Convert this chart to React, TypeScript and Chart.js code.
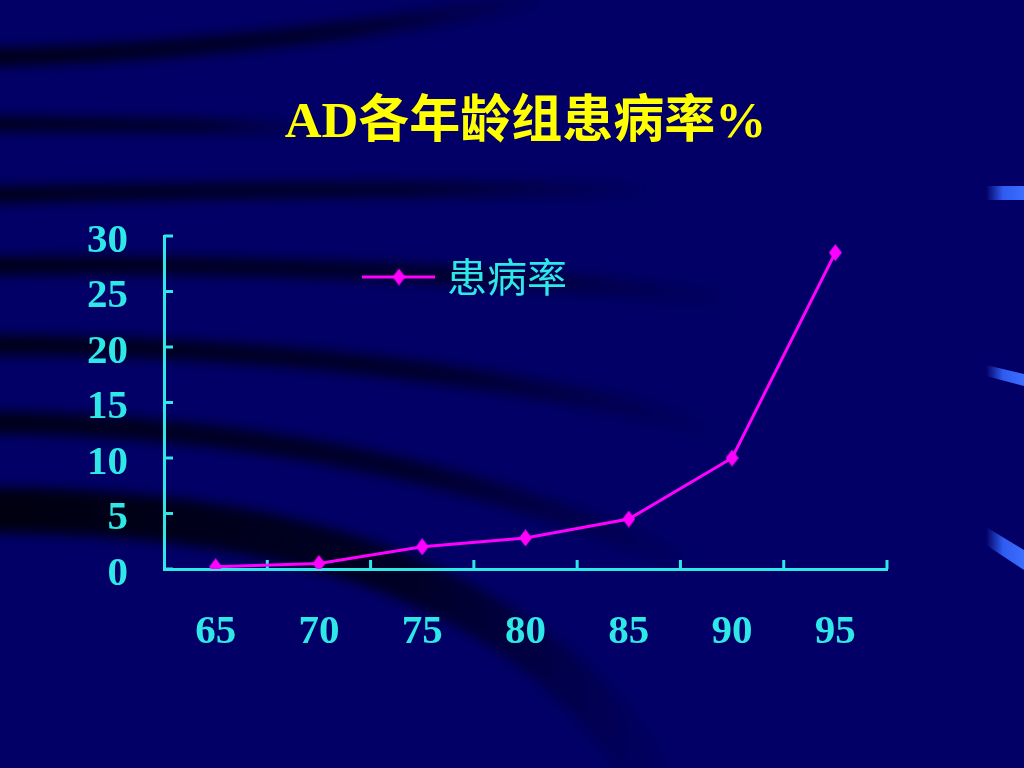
import { useEffect, useRef } from "react";
import { Chart, registerables } from "chart.js";

Chart.register(...registerables);

const categories = ["65", "70", "75", "80", "85", "90", "95"];
const prevalence = [0.2, 0.5, 2.0, 2.8, 4.5, 10, 28.5];
const yMin = 0;
const yMax = 30;
const yStep = 5;
const seriesLabel = "患病率";
const titleText = "AD各年龄组患病率%";

const BG = "#020066";
const CYAN = "#2ee8e8";
const MAGENTA = "#ff00ff";
const YELLOW = "#ffff00";

function makeDiamond(w: number, h: number, color: string) {
  const c = document.createElement("canvas");
  c.width = w;
  c.height = h;
  const g = c.getContext("2d")!;
  g.fillStyle = color;
  g.beginPath();
  g.moveTo(w / 2, 0);
  g.lineTo(w, h / 2);
  g.lineTo(w / 2, h);
  g.lineTo(0, h / 2);
  g.closePath();
  g.fill();
  return c;
}

const backgroundPlugin = {
  id: "slideBackground",
  beforeDraw(chart: any) {
    const ctx = chart.ctx as CanvasRenderingContext2D;
    const W = chart.width;
    const H = chart.height;
    ctx.save();
    ctx.fillStyle = BG;
    ctx.fillRect(0, 0, W, H);
    ctx.filter = "blur(6px)";
    const band = (pts: number[], width: number, fadeTo: number, alpha = 0.85) => {
      const grad = ctx.createLinearGradient(0, 0, fadeTo, 0);
      grad.addColorStop(0, `rgba(0,0,12,${alpha})`);
      grad.addColorStop(0.6, `rgba(0,0,12,${alpha * 0.75})`);
      grad.addColorStop(1, "rgba(0,0,12,0)");
      ctx.strokeStyle = grad;
      ctx.lineWidth = width;
      ctx.lineCap = "round";
      ctx.beginPath();
      ctx.moveTo(pts[0], pts[1]);
      ctx.bezierCurveTo(pts[2], pts[3], pts[4], pts[5], pts[6], pts[7]);
      ctx.stroke();
    };
    band([-20, 58, 200, 52, 380, 30, 560, -5], 18, 560);
    band([-20, 124, 100, 124, 200, 126, 320, 128], 14, 330);
    band([-20, 195, 200, 190, 420, 188, 660, 190], 16, 660);
    band([-20, 266, 250, 262, 500, 272, 740, 300], 18, 740);
    band([-20, 345, 250, 345, 500, 370, 720, 430], 20, 720);
    band([-20, 422, 220, 425, 450, 460, 680, 560], 22, 700);
    band([-20, 510, 250, 510, 520, 560, 660, 790], 45, 680, 0.95);
    ctx.filter = "none";
    const strip = (y1: number, y2: number, y3: number, y4: number) => {
      const grad = ctx.createLinearGradient(986, 0, 1024, 0);
      grad.addColorStop(0, "rgba(51,102,255,0)");
      grad.addColorStop(0.45, "rgba(51,102,255,0.9)");
      grad.addColorStop(1, "rgba(60,110,255,1)");
      ctx.fillStyle = grad;
      ctx.beginPath();
      ctx.moveTo(986, y1);
      ctx.lineTo(1024, y2);
      ctx.lineTo(1024, y3);
      ctx.lineTo(986, y4);
      ctx.closePath();
      ctx.fill();
    };
    strip(186, 186, 200, 200);
    strip(365, 374, 386, 376);
    strip(527, 550, 570, 545);
    ctx.restore();
  },
};

const inwardTicksPlugin = {
  id: "inwardTicks",
  beforeDatasetsDraw(chart: any) {
    const ctx = chart.ctx as CanvasRenderingContext2D;
    const x = chart.scales.x;
    const y = chart.scales.y;
    const area = chart.chartArea;
    const len = 9;
    ctx.save();
    ctx.strokeStyle = CYAN;
    ctx.lineWidth = 3;
    ctx.beginPath();
    y.ticks.forEach((_t: any, i: number) => {
      const py = y.getPixelForTick(i);
      ctx.moveTo(area.left, py);
      ctx.lineTo(area.left + len, py);
    });
    const half = (x.getPixelForValue(1) - x.getPixelForValue(0)) / 2;
    for (let i = 0; i < categories.length; i++) {
      const px = x.getPixelForValue(i) + half;
      ctx.moveTo(px, area.bottom);
      ctx.lineTo(px, area.bottom - len);
    }
    ctx.stroke();
    ctx.restore();
  },
};

const makeOverlayPlugin = (marker: HTMLCanvasElement) => ({
  id: "titleAndLegend",
  afterDraw(chart: any) {
    const ctx = chart.ctx as CanvasRenderingContext2D;
    const area = chart.chartArea;
    ctx.save();
    // title
    ctx.fillStyle = YELLOW;
    ctx.font = 'bold 51px "Liberation Serif", "Noto Sans CJK SC", serif';
    ctx.textAlign = "center";
    ctx.textBaseline = "middle";
    ctx.fillText(titleText, (area.left + area.right) / 2, 124);
    // legend
    const ly = area.top + 41;
    const lx = area.left + 198;
    ctx.strokeStyle = MAGENTA;
    ctx.lineWidth = 3;
    ctx.beginPath();
    ctx.moveTo(lx, ly);
    ctx.lineTo(lx + 73, ly);
    ctx.stroke();
    ctx.drawImage(marker, lx + 37 - marker.width / 2, ly - marker.height / 2);
    ctx.fillStyle = CYAN;
    ctx.font = '40px "Noto Sans CJK SC", sans-serif';
    ctx.textAlign = "left";
    ctx.textBaseline = "middle";
    ctx.fillText(seriesLabel, lx + 85, ly);
    ctx.restore();
  },
});

export default function App() {
  const ref = useRef<HTMLCanvasElement>(null);
  useEffect(() => {
    document.body.style.margin = "0";
    const canvas = ref.current!;
    const marker = makeDiamond(13, 17, MAGENTA);
    const tickFont = { family: '"Liberation Serif", "Times New Roman", serif', size: 41, weight: "bold" as const };
    const chart = new Chart(canvas, {
      type: "line",
      data: {
        labels: categories,
        datasets: [
          {
            label: seriesLabel,
            data: prevalence,
            borderColor: MAGENTA,
            backgroundColor: MAGENTA,
            borderWidth: 3,
            pointStyle: marker as any,
            pointRadius: 8,
            tension: 0,
          },
        ],
      },
      options: {
        responsive: false,
        animation: false,
        devicePixelRatio: 1,
        layout: { padding: { top: 236, right: 137, left: 0, bottom: 0 } },
        plugins: {
          legend: { display: false },
          title: { display: false },
          tooltip: { enabled: false },
        },
        scales: {
          x: {
            type: "category",
            offset: true,
            grid: { display: false, drawTicks: false },
            border: { display: true, color: CYAN, width: 3 },
            ticks: { color: CYAN, font: tickFont, padding: 39, maxRotation: 0, autoSkip: false },
            afterFit(scale: any) {
              scale.height = 199;
            },
          },
          y: {
            min: yMin,
            max: yMax,
            grid: { display: false, drawTicks: false },
            border: { display: true, color: CYAN, width: 3 },
            ticks: { color: CYAN, font: tickFont, padding: 36, stepSize: yStep, labelOffset: 5 },
            afterFit(scale: any) {
              scale.width = 164;
            },
          },
        },
      },
      plugins: [backgroundPlugin, inwardTicksPlugin, makeOverlayPlugin(marker)],
    });
    return () => chart.destroy();
  }, []);
  return (
    <div style={{ width: 1024, height: 768, background: BG }}>
      <canvas ref={ref} width={1024} height={768} style={{ display: "block" }} />
    </div>
  );
}
